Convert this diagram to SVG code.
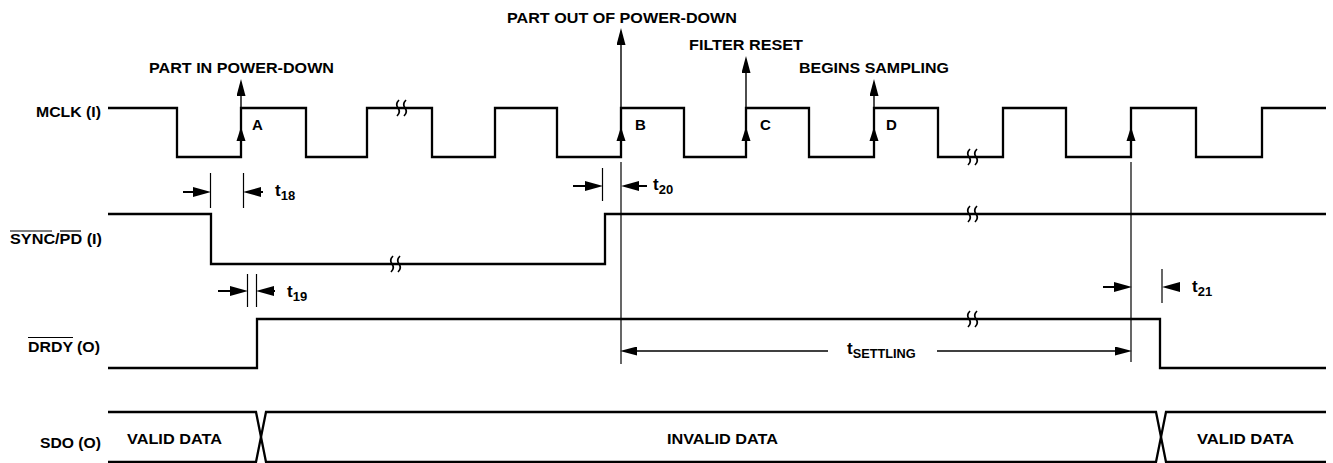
<svg xmlns="http://www.w3.org/2000/svg" width="1333" height="463" viewBox="0 0 1333 463">
<style>
.sig{fill:none;stroke:#000;stroke-width:2.3;stroke-linejoin:miter}
.thin{fill:none;stroke:#000;stroke-width:1.2}
.arr{fill:none;stroke:#000;stroke-width:2}
.arrt{fill:none;stroke:#000;stroke-width:1.4}
.brk{fill:none;stroke:#000;stroke-width:1.7}
text{font-family:"Liberation Sans",Arial,sans-serif;font-weight:bold;fill:#000}
.lbl{font-size:15px}
.t{font-size:17px}
.sub{font-size:13px}
</style>
<defs>
<marker id="ah" viewBox="0 0 17 9" refX="8" refY="4.5" markerWidth="17" markerHeight="9" markerUnits="userSpaceOnUse" orient="auto">
<path d="M0,0 L17,4.5 L0,9 Z" fill="#000"/>
</marker>
<marker id="ahb" viewBox="0 0 18 10" refX="8" refY="5" markerWidth="18" markerHeight="10" markerUnits="userSpaceOnUse" orient="auto">
<path d="M0,0 L18,5 L0,10 Z" fill="#000"/>
</marker>
<path id="up" d="M0,0 L-4.5,14 L4.5,14 Z" fill="#000"/>
<path id="brk" d="M-2,-8 Q-6,-4 -3,0 Q0,4 -4,8 M5,-8 Q1,-4 4,0 Q7,4 3,8" class="brk"/>
</defs>

<g id="mclk">
<text class="lbl" x="36" y="117" textLength="65" lengthAdjust="spacingAndGlyphs">MCLK (I)</text>
<path class="sig" d="M108,108 H177 V157 H241 V108 H306 V157 H367 V108 H432 V157 H495 V108 H557 V157 H621 V108 H684 V157 H746 V108 H809 V157 H874 V108 H938 V157 H1003 V108 H1066 V157 H1131 V108 H1196 V157 H1262 V108 H1326"/>
<use href="#up" x="241" y="127"/>
<use href="#up" x="621" y="127"/>
<use href="#up" x="746" y="127"/>
<use href="#up" x="874" y="127"/>
<use href="#up" x="1131" y="127"/>
<use href="#brk" x="401" y="108"/>
<use href="#brk" x="972" y="157"/>
<text class="lbl" x="252" y="130">A</text>
<text class="lbl" x="635" y="130">B</text>
<text class="lbl" x="760" y="130">C</text>
<text class="lbl" x="886" y="130">D</text>
</g>

<g id="events">
<line class="arrt" x1="241" y1="108" x2="241" y2="88" marker-end="url(#ah)"/>
<text class="lbl" x="149" y="73" textLength="185" lengthAdjust="spacingAndGlyphs">PART IN POWER-DOWN</text>
<line class="arrt" x1="621" y1="108" x2="621" y2="37" marker-end="url(#ah)"/>
<text class="lbl" x="507" y="23" textLength="230" lengthAdjust="spacingAndGlyphs">PART OUT OF POWER-DOWN</text>
<line class="arrt" x1="746" y1="108" x2="746" y2="65" marker-end="url(#ah)"/>
<text class="lbl" x="689" y="50" textLength="114" lengthAdjust="spacingAndGlyphs">FILTER RESET</text>
<line class="arrt" x1="874" y1="108" x2="874" y2="88" marker-end="url(#ah)"/>
<text class="lbl" x="799" y="73" textLength="150" lengthAdjust="spacingAndGlyphs">BEGINS SAMPLING</text>
</g>

<g id="sync">
<text class="lbl" x="10" y="244" textLength="92" lengthAdjust="spacingAndGlyphs">SYNC/PD (I)</text>
<line class="thin" x1="10" y1="231" x2="52" y2="231"/>
<line class="thin" x1="60" y1="231" x2="81" y2="231"/>
<path class="sig" d="M108,214 H211 V264 H605 V214 H1326"/>
<use href="#brk" x="395" y="264"/>
<use href="#brk" x="972" y="214"/>
</g>

<g id="drdy">
<text class="lbl" x="28" y="352" textLength="72" lengthAdjust="spacingAndGlyphs">DRDY (O)</text>
<line class="thin" x1="28" y1="337.5" x2="73" y2="337.5"/>
<path class="sig" d="M108,368 H257 V319 H1160 V368 H1326"/>
<use href="#brk" x="972" y="319"/>
</g>

<g id="sdo">
<text class="lbl" x="40" y="448" textLength="61" lengthAdjust="spacingAndGlyphs">SDO (O)</text>
<path class="sig" d="M108,412 H256 L266,462 H1156 L1166,412 H1326"/>
<path class="sig" d="M108,462 H256 L266,412 H1156 L1166,462 H1326"/>
<text class="lbl" x="127" y="444" textLength="95" lengthAdjust="spacingAndGlyphs">VALID DATA</text>
<text class="lbl" x="667" y="444" textLength="111" lengthAdjust="spacingAndGlyphs">INVALID DATA</text>
<text class="lbl" x="1197" y="444" textLength="97" lengthAdjust="spacingAndGlyphs">VALID DATA</text>
</g>

<g id="connectors">
<!-- t18 -->
<line class="thin" x1="210.5" y1="173" x2="210.5" y2="208"/>
<line class="thin" x1="243.5" y1="173" x2="243.5" y2="208"/>
<line class="arr" x1="183" y1="192" x2="201" y2="192" marker-end="url(#ahb)"/>
<line class="arr" x1="263" y1="192" x2="253" y2="192" marker-end="url(#ahb)"/>
<text class="t" x="275" y="196">t<tspan class="sub" dy="3.5">18</tspan></text>
<!-- t19 -->
<line class="thin" x1="247.5" y1="274" x2="247.5" y2="307"/>
<line class="thin" x1="256.5" y1="274" x2="256.5" y2="307"/>
<line class="arr" x1="218" y1="291" x2="238" y2="291" marker-end="url(#ahb)"/>
<line class="arr" x1="275" y1="291" x2="266" y2="291" marker-end="url(#ahb)"/>
<text class="t" x="287" y="297">t<tspan class="sub" dy="3.5">19</tspan></text>
<!-- t20 -->
<line class="thin" x1="602.5" y1="168" x2="602.5" y2="201"/>
<line class="thin" x1="621" y1="162" x2="621" y2="364"/>
<line class="arr" x1="573" y1="186" x2="593" y2="186" marker-end="url(#ahb)"/>
<line class="arr" x1="647" y1="186" x2="631" y2="186" marker-end="url(#ahb)"/>
<text class="t" x="653" y="190">t<tspan class="sub" dy="3.5">20</tspan></text>
<!-- t21 -->
<line class="thin" x1="1131" y1="162" x2="1131" y2="362"/>
<line class="thin" x1="1162" y1="269" x2="1162" y2="303"/>
<line class="arr" x1="1103" y1="287" x2="1122" y2="287" marker-end="url(#ahb)"/>
<line class="arr" x1="1180" y1="287" x2="1172" y2="287" marker-end="url(#ahb)"/>
<text class="t" x="1192" y="292">t<tspan class="sub" dy="3.5">21</tspan></text>
<!-- tSETTLING -->
<line class="arrt" x1="828" y1="351" x2="629" y2="351" marker-end="url(#ah)"/>
<line class="arrt" x1="937" y1="351" x2="1123" y2="351" marker-end="url(#ah)"/>
<text class="t" x="847" y="354">t<tspan class="sub" dy="3.5" textLength="63" lengthAdjust="spacingAndGlyphs">SETTLING</tspan></text>
</g>
</svg>
